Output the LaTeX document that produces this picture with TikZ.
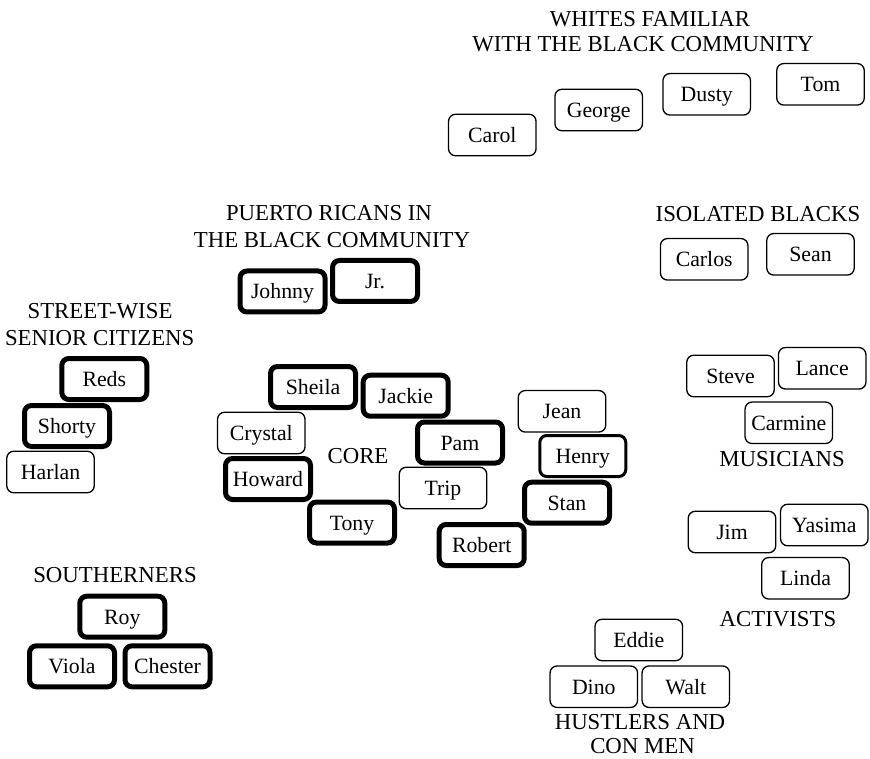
\documentclass[tikz,border=0pt]{standalone}
\usepackage{fontspec}
\setmainfont{Liberation Serif}
\tikzset{
  person/.style={draw, rounded corners=7pt, inner sep=0pt, text height=15pt, text depth=0pt,
    font=\fontsize{21.8}{25}\selectfont, line width=1.3pt, minimum width=87.5pt, minimum height=41.5pt},
  strong/.style={person, line width=5pt, minimum width=85pt, minimum height=41pt},
  medium/.style={person, line width=3pt, minimum width=86pt, minimum height=41pt},
  grouplabel/.style={anchor=base, inner sep=0pt, font=\fontsize{22.8}{26}\selectfont}
}
\begin{document}
\begin{tikzpicture}[x=1pt, y=-1pt]
\useasboundingbox (0,0) rectangle (870,759);
% group labels
\node[grouplabel] (whites1) at (650,26.7) {WHITES FAMILIAR};
\node[grouplabel] (whites2) at (643,51.7) {WITH THE BLACK COMMUNITY};
\node[grouplabel] (puerto1) at (329,221) {PUERTO RICANS IN};
\node[grouplabel] (puerto2) at (332,248) {THE BLACK COMMUNITY};
\node[grouplabel] (isolated) at (758,222) {ISOLATED BLACKS};
\node[grouplabel] (street1) at (100,318.3) {STREET-WISE};
\node[grouplabel] (street2) at (99.7,345) {SENIOR CITIZENS};
\node[grouplabel] (core) at (358,463) {CORE};
\node[grouplabel] (musicians) at (782,466) {MUSICIANS};
\node[grouplabel] (activists) at (778,626.5) {ACTIVISTS};
\node[grouplabel] (hustlers1) at (640,729.5) {HUSTLERS AND};
\node[grouplabel] (hustlers2) at (642.5,753.5) {CON MEN};
\node[grouplabel] (southerners) at (115,582) {SOUTHERNERS};
% whites familiar
\node[person] (carol) at (492.3,135) {Carol};
\node[person] (george) at (598.7,110) {George};
\node[person] (dusty) at (706.7,94.3) {Dusty};
\node[person] (tom) at (820.5,84.3) {Tom};
% isolated blacks
\node[person] (carlos) at (704.2,259.3) {Carlos};
\node[person] (sean) at (810.5,254.3) {Sean};
% puerto ricans
\node[strong] (johnny) at (282.5,291.5) {Johnny};
\node[strong] (jr) at (375,281) {Jr.};
% street-wise senior citizens
\node[strong] (reds) at (104.3,379) {Reds};
\node[strong] (shorty) at (67,426) {Shorty};
\node[person] (harlan) at (50.5,472) {Harlan};
% core
\node[strong] (sheila) at (313,387) {Sheila};
\node[strong] (jackie) at (405.7,395.7) {Jackie};
\node[person] (crystal) at (261.3,433) {Crystal};
\node[strong] (howard) at (268,479) {Howard};
\node[strong] (pam) at (460,442.5) {Pam};
\node[person] (trip) at (443,488) {Trip};
\node[strong] (tony) at (352,522.5) {Tony};
\node[person] (jean) at (562,411.3) {Jean};
\node[medium] (henry) at (582.8,456) {Henry};
\node[strong] (stan) at (567,502.7) {Stan};
\node[strong] (robert) at (481.7,545) {Robert};
% musicians
\node[person] (steve) at (730.5,376) {Steve};
\node[person] (lance) at (822.2,368.3) {Lance};
\node[person] (carmine) at (788.8,422.8) {Carmine};
% activists
\node[person] (jim) at (732,532) {Jim};
\node[person] (yasima) at (824.3,525) {Yasima};
\node[person] (linda) at (805.5,578.3) {Linda};
% hustlers
\node[person] (eddie) at (638.8,640) {Eddie};
\node[person] (dino) at (593.8,686.7) {Dino};
\node[person] (walt) at (685.8,686.7) {Walt};
% southerners
\node[strong] (roy) at (122.3,616.7) {Roy};
\node[strong] (viola) at (72,666.3) {Viola};
\node[strong] (chester) at (167.5,666.3) {Chester};
\end{tikzpicture}
\end{document}
